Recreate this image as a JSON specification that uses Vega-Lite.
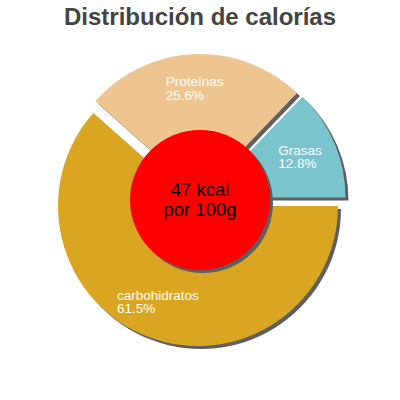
{
  "$schema": "https://vega.github.io/schema/vega-lite/v6.json",
  "width": 400,
  "height": 400,
  "autosize": "none",
  "padding": 0,
  "background": "white",
  "title": {
    "text": "Distribución de calorías",
    "font": "Liberation Sans",
    "fontSize": 24,
    "fontWeight": "bold",
    "color": "#444444",
    "anchor": "middle",
    "offset": -30
  },
  "config": {"view": {"stroke": null}, "font": "Liberation Sans"},
  "datasets": {
    "macros": [
      {"nutrient": "carbohidratos", "pct": 61.5, "label": "carbohidratos\n61.5%", "order": 1},
      {"nutrient": "Proteínas", "pct": 25.6, "label": "Proteínas\n25.6%", "order": 2},
      {"nutrient": "Grasas", "pct": 12.8, "label": "Grasas\n12.8%", "order": 3}
    ],
    "energy": [{"label": "47 kcal\npor 100g"}]
  },
  "data": {"name": "macros"},
  "resolve": {"scale": {"theta": "shared"}},
  "layer": [
    {
      "transform": [
        {"stack": "pct", "groupby": [], "as": ["t0", "t1"], "sort": [{"field": "order"}]},
        {"filter": "datum.nutrient === 'carbohidratos'"}
      ],
      "mark": {"type": "arc", "radius": 140, "xOffset": 1, "yOffset": 9, "color": "#5f5f5f"},
      "encoding": {
        "theta": {"field": "t0", "type": "quantitative", "scale": {"domain": [0, 99.9], "range": [1.5708, 7.854]}},
        "theta2": {"field": "t1"}
      }
    },
    {
      "transform": [
        {"stack": "pct", "groupby": [], "as": ["t0", "t1"], "sort": [{"field": "order"}]},
        {"filter": "datum.nutrient === 'Proteínas'"}
      ],
      "mark": {"type": "arc", "radius": 140, "xOffset": 3, "yOffset": -3, "color": "#5f5f5f"},
      "encoding": {
        "theta": {"field": "t0", "type": "quantitative"},
        "theta2": {"field": "t1"}
      }
    },
    {
      "transform": [
        {"stack": "pct", "groupby": [], "as": ["t0", "t1"], "sort": [{"field": "order"}]},
        {"filter": "datum.nutrient === 'Grasas'"}
      ],
      "mark": {"type": "arc", "radius": 140, "xOffset": 8.5, "yOffset": 0.6, "color": "#5f5f5f"},
      "encoding": {
        "theta": {"field": "t0", "type": "quantitative"},
        "theta2": {"field": "t1"}
      }
    },
    {
      "transform": [
        {"stack": "pct", "groupby": [], "as": ["t0", "t1"], "sort": [{"field": "order"}]},
        {"filter": "datum.nutrient === 'carbohidratos'"}
      ],
      "mark": {"type": "arc", "radius": 140, "xOffset": -2, "yOffset": 6, "color": "#DAA520"},
      "encoding": {
        "theta": {"field": "t0", "type": "quantitative"},
        "theta2": {"field": "t1"}
      }
    },
    {
      "transform": [
        {"stack": "pct", "groupby": [], "as": ["t0", "t1"], "sort": [{"field": "order"}]},
        {"filter": "datum.nutrient === 'Proteínas'"}
      ],
      "mark": {"type": "arc", "radius": 140, "xOffset": 0, "yOffset": -6, "color": "#EEC591"},
      "encoding": {
        "theta": {"field": "t0", "type": "quantitative"},
        "theta2": {"field": "t1"}
      }
    },
    {
      "transform": [
        {"stack": "pct", "groupby": [], "as": ["t0", "t1"], "sort": [{"field": "order"}]},
        {"filter": "datum.nutrient === 'Grasas'"}
      ],
      "mark": {"type": "arc", "radius": 140, "xOffset": 5.5, "yOffset": -2.4, "color": "#7AC5CD"},
      "encoding": {
        "theta": {"field": "t0", "type": "quantitative"},
        "theta2": {"field": "t1"}
      }
    },
    {
      "mark": {"type": "text", "radius": 110, "align": "left", "baseline": "alphabetic", "dx": -44, "dy": -3, "lineBreak": "\n", "lineHeight": 13.5, "fontSize": 13.5, "color": "white", "font": "Liberation Sans"},
      "encoding": {
        "theta": {"field": "pct", "type": "quantitative", "stack": true},
        "order": {"field": "order"},
        "detail": {"field": "nutrient"},
        "text": {"condition": {"test": "datum.nutrient === 'carbohidratos'", "field": "label"}, "value": ""}
      }
    },
    {
      "mark": {"type": "text", "radius": 110, "align": "left", "baseline": "alphabetic", "dx": -30, "dy": -4, "lineBreak": "\n", "lineHeight": 13.5, "fontSize": 13.5, "color": "white", "font": "Liberation Sans"},
      "encoding": {
        "theta": {"field": "pct", "type": "quantitative", "stack": true},
        "order": {"field": "order"},
        "detail": {"field": "nutrient"},
        "text": {"condition": {"test": "datum.nutrient === 'Proteínas'", "field": "label"}, "value": ""}
      }
    },
    {
      "mark": {"type": "text", "radius": 110, "align": "left", "baseline": "alphabetic", "dx": -23, "dy": -2, "lineBreak": "\n", "lineHeight": 13.5, "fontSize": 13.5, "color": "white", "font": "Liberation Sans"},
      "encoding": {
        "theta": {"field": "pct", "type": "quantitative", "stack": true},
        "order": {"field": "order"},
        "detail": {"field": "nutrient"},
        "text": {"condition": {"test": "datum.nutrient === 'Grasas'", "field": "label"}, "value": ""}
      }
    },
    {
      "data": {"name": "energy"},
      "mark": {"type": "arc", "radius": 70, "xOffset": 3, "yOffset": 3, "color": "#5f5f5f"},
      "encoding": {}
    },
    {
      "data": {"name": "energy"},
      "mark": {"type": "arc", "radius": 70, "color": "#FF0000"},
      "encoding": {}
    },
    {
      "data": {"name": "energy"},
      "mark": {"type": "text", "align": "center", "baseline": "alphabetic", "lineBreak": "\n", "fontSize": 18.5, "lineHeight": 19.5, "color": "black", "font": "Liberation Sans", "dy": -4},
      "encoding": {"text": {"field": "label"}}
    }
  ]
}
